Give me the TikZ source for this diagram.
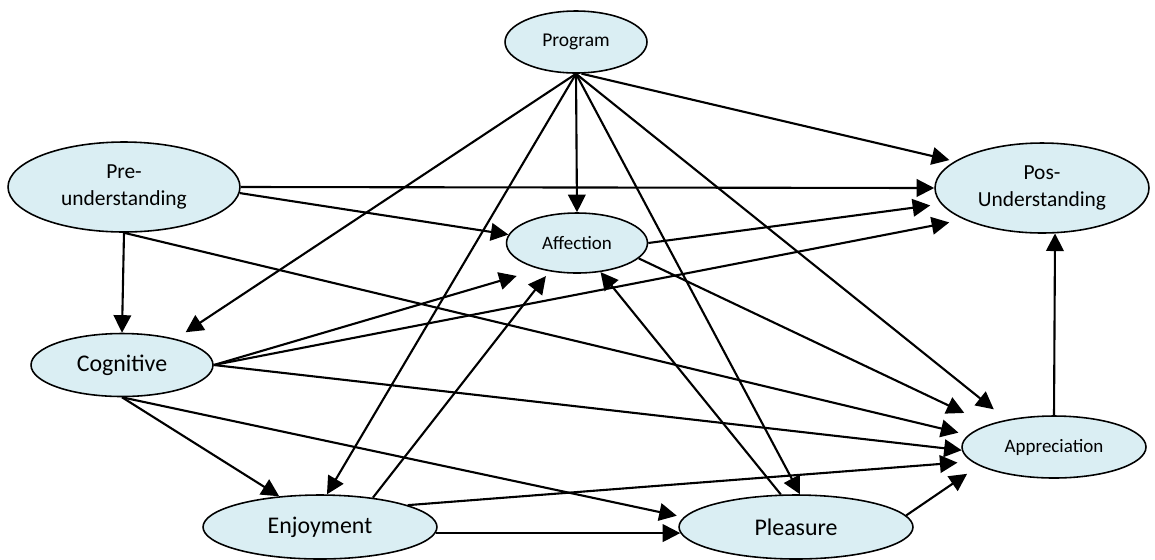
\documentclass[tikz,border=0pt]{standalone}
\usepackage{fontspec}
\setmainfont{Carlito}
\usetikzlibrary{shapes.geometric,arrows.meta}
\definecolor{bubble}{HTML}{DAEEF3}

\begin{document}
\begin{tikzpicture}[x=0.02cm,y=-0.02cm,
        concept/.style={ellipse,draw,line width=0.9pt,fill=bubble,inner sep=0pt,align=center},
        link/.style={line width=1.2pt,-{Triangle[length=10pt,width=10pt]}}]
        \useasboundingbox (0,0) rectangle (1155,559);
        \node [concept,minimum width=2.84cm,minimum height=1.24cm,
            font=\fontsize{11.1}{13}\selectfont] (prog) at (576,42) {Program};
        \node [concept,minimum width=4.64cm,minimum height=1.80cm,
            font=\fontsize{12.2}{15.2}\selectfont] (pre) at (124,187) {Pre-\\understanding};
        \node [concept,minimum width=4.28cm,minimum height=1.80cm,
            font=\fontsize{12.2}{15.2}\selectfont] (pos) at (1042,188) {Pos-\\Understanding};
        \node [concept,minimum width=2.82cm,minimum height=1.20cm,
            font=\fontsize{10.8}{13}\selectfont] (aff) at (577,243) {Affection};
        \node [concept,minimum width=3.64cm,minimum height=1.26cm,
            font=\fontsize{13.6}{16}\selectfont] (cog) at (122,365) {Cognitive};
        \node [concept,minimum width=3.68cm,minimum height=1.24cm,
            font=\fontsize{10.8}{13}\selectfont] (appr) at (1054,447) {Appreciation};
        \node [concept,minimum width=4.68cm,minimum height=1.28cm,
            font=\fontsize{13.6}{16}\selectfont] (enj) at (320,527) {Enjoyment};
        \node [concept,minimum width=4.68cm,minimum height=1.28cm,
            font=\fontsize{13.6}{16}\selectfont] (plea) at (796,527) {Pleasure};

        \draw [link,shorten >=3pt] (prog.-80) -- (pos.163);
        \draw [link] (prog.south) -- (aff.north);
        \draw [link,shorten >=6.8pt] (prog.south) -- (cog.26);
        \draw [link] (prog.south) -- (enj.78);
        \draw [link] (prog.south) -- (plea.83);
        \draw [link,shorten >=9.4pt] (prog.south) -- (appr.150);

        \draw [link] (pre.east) -- (pos.west);
        \draw [link] (pre.-3) -- (aff.173);
        \draw [link] (pre.south) -- (cog.north);
        \draw [link,shorten >=5.7pt] (pre.south) -- (appr.172);

        \draw [link,shorten >=13.6pt] (cog.east) -- (aff.215);
        \draw [link,shorten >=8.5pt] (cog.east) -- (pos.202);
        \draw [link] (cog.east) -- (appr.182);
        \draw [link] (cog.south) -- (enj.143);
        \draw [link,shorten >=4pt] (cog.south) -- (plea.175);

        \draw [link,shorten >=3.4pt] (enj.29) -- (aff.226);
        \draw [link] (enj.-3) -- (plea.183);
        \draw [link,shorten >=8pt] (enj.14) -- (appr.190);

        \draw [link] (plea.115) -- (aff.-51);
        \draw [link,shorten >=8.2pt] (plea.6) -- (appr.194);

        \draw [link,shorten >=6.2pt] (aff.east) -- (pos.189);
        \draw [link,shorten >=15.3pt] (aff.-14) -- (appr.161);

        \draw [link] (appr.north) -- (pos.-74);
    \end{tikzpicture}
\end{document}
